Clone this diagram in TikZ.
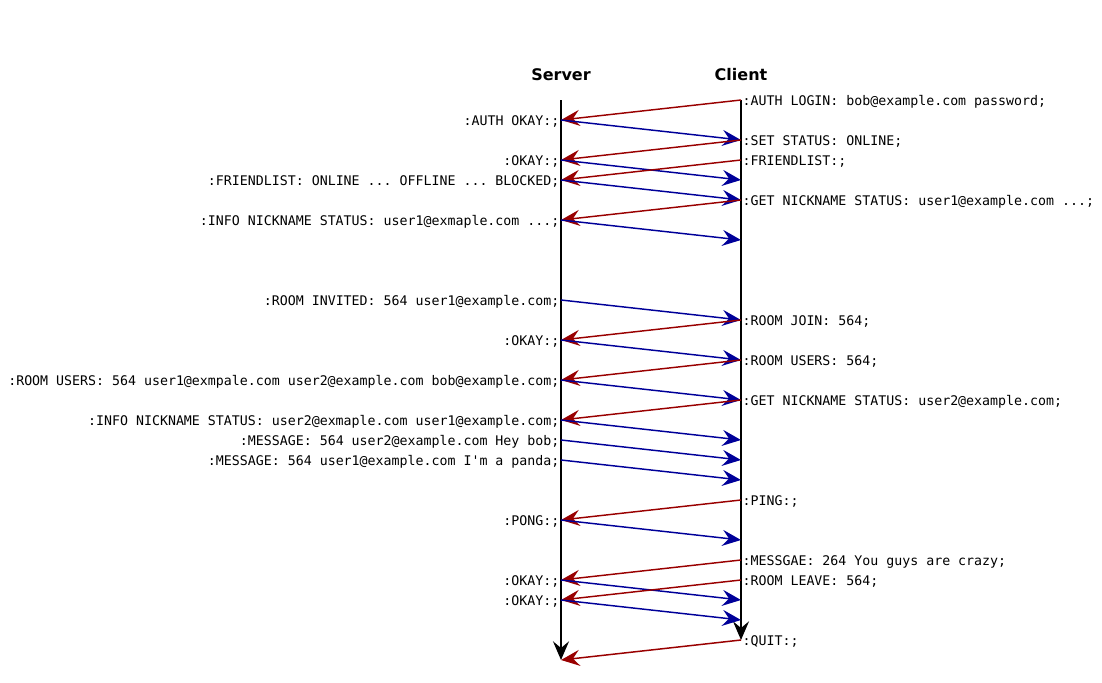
\documentclass[tikz,border=0pt]{standalone}
\usepackage{fontspec}
\setsansfont{DejaVu Sans}
\setmonofont{DejaVu Sans Mono}
\usepackage{tikz}
\usetikzlibrary{positioning, arrows.meta}
\usepackage{xcolor}
\definecolor{reqred}{HTML}{990000}
\definecolor{resblue}{HTML}{000099}

\begin{document}
\begin{tikzpicture}[
  x=0.75pt, y=-0.75pt,
  node distance=0pt,
  head/.style={font=\sffamily\bfseries\fontsize{12}{14}\selectfont},
  slabel/.style={font=\ttfamily\fontsize{9.95}{12}\selectfont, inner sep=0pt, anchor=east, yshift=-1.2pt},
  clabel/.style={font=\ttfamily\fontsize{9.95}{12}\selectfont, inner sep=0pt, anchor=west, yshift=-1.2pt},
  tip/.style={-{Stealth[length=14pt, width=12pt, inset=5pt]}},
  life/.style={tip, line width=1.5pt},
  toserver/.style={tip, line width=1.1pt, reqred},
  toclient/.style={tip, line width=1.1pt, resblue}
]
\useasboundingbox (0,0) rectangle (1102,682);

\foreach \y in {100,120,...,660} {
  \coordinate (s\y) at (561,\y);
  \coordinate (c\y) at (741,\y);
}

\node[head] (server) at (561,75) {Server};
\node[head] (client) at (741,75) {Client};

\draw[life] (s100) -- (s660);
\draw[life] (c100) -- (c640);

\node[clabel, right=1pt of c100] (authlogin) {:AUTH LOGIN: bob@example.com password;};
\node[slabel, left=1pt of s120] (authokay) {:AUTH OKAY:;};
\node[clabel, right=1pt of c140] (setstatus) {:SET STATUS: ONLINE;};
\node[slabel, left=1pt of s160] (okaya) {:OKAY:;};
\node[clabel, right=1pt of c160] (friendlist) {:FRIENDLIST:;};
\node[slabel, left=1pt of s180] (friends) {:FRIENDLIST: ONLINE ... OFFLINE ... BLOCKED;};
\node[clabel, right=1pt of c200] (getnicka) {:GET NICKNAME STATUS: user1@example.com ...;};
\node[slabel, left=1pt of s220] (infonicka) {:INFO NICKNAME STATUS: user1@exmaple.com ...;};
\node[slabel, left=1pt of s300] (invited) {:ROOM INVITED: 564 user1@example.com;};
\node[clabel, right=1pt of c320] (roomjoin) {:ROOM JOIN: 564;};
\node[slabel, left=1pt of s340] (okayb) {:OKAY:;};
\node[clabel, right=1pt of c360] (roomusers) {:ROOM USERS: 564;};
\node[slabel, left=1pt of s380] (userlist) {:ROOM USERS: 564 user1@exmpale.com user2@example.com bob@example.com;};
\node[clabel, right=1pt of c400] (getnickb) {:GET NICKNAME STATUS: user2@example.com;};
\node[slabel, left=1pt of s420] (infonickb) {:INFO NICKNAME STATUS: user2@exmaple.com user1@example.com;};
\node[slabel, left=1pt of s440] (msga) {:MESSAGE: 564 user2@example.com Hey bob;};
\node[slabel, left=1pt of s460] (msgb) {:MESSAGE: 564 user1@example.com I'm a panda;};
\node[clabel, right=1pt of c500] (ping) {:PING:;};
\node[slabel, left=1pt of s520] (pong) {:PONG:;};
\node[clabel, right=1pt of c560] (msgc) {:MESSGAE: 264 You guys are crazy;};
\node[slabel, left=1pt of s580] (okayc) {:OKAY:;};
\node[clabel, right=1pt of c580] (roomleave) {:ROOM LEAVE: 564;};
\node[slabel, left=1pt of s600] (okayd) {:OKAY:;};
\node[clabel, right=1pt of c640] (quit) {:QUIT:;};

\draw[toserver] (c100) -- (s120);
\draw[toclient] (s120) -- (c140);
\draw[toserver] (c140) -- (s160);
\draw[toclient] (s160) -- (c180);
\draw[toserver] (c160) -- (s180);
\draw[toclient] (s180) -- (c200);
\draw[toserver] (c200) -- (s220);
\draw[toclient] (s220) -- (c240);
\draw[toclient] (s300) -- (c320);
\draw[toserver] (c320) -- (s340);
\draw[toclient] (s340) -- (c360);
\draw[toserver] (c360) -- (s380);
\draw[toclient] (s380) -- (c400);
\draw[toserver] (c400) -- (s420);
\draw[toclient] (s420) -- (c440);
\draw[toclient] (s440) -- (c460);
\draw[toclient] (s460) -- (c480);
\draw[toserver] (c500) -- (s520);
\draw[toclient] (s520) -- (c540);
\draw[toserver] (c560) -- (s580);
\draw[toclient] (s580) -- (c600);
\draw[toserver] (c580) -- (s600);
\draw[toclient] (s600) -- (c620);
\draw[toserver] (c640) -- (s660);
\end{tikzpicture}
\end{document}
